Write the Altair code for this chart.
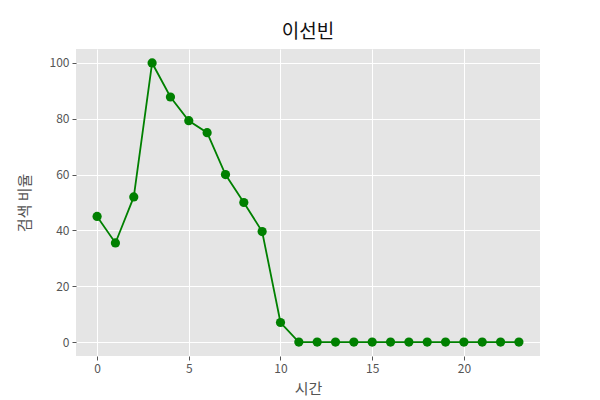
import altair as alt
import pandas as pd

hours = list(range(24))
ratio = [45, 35.5, 52, 100, 87.8, 79.3, 75, 60, 50, 39.6, 7, 0, 0, 0, 0, 0, 0, 0, 0, 0, 0, 0, 0, 0]

df = pd.DataFrame({"시간": hours, "검색 비율": ratio})

FONT = "Noto Sans CJK KR"

base = alt.Chart(df).encode(
    x=alt.X("시간:Q", scale=alt.Scale(domain=[-1.15, 24.15], nice=False, zero=False),
            axis=alt.Axis(values=[0, 5, 10, 15, 20], title="시간", format="d")),
    y=alt.Y("검색 비율:Q", scale=alt.Scale(domain=[-5, 105], nice=False),
            axis=alt.Axis(values=[0, 20, 40, 60, 80, 100], title="검색 비율")),
)

line = base.mark_line(color="#008000", strokeWidth=1.8)
pts = base.mark_circle(color="#008000", size=85, opacity=1)

chart = (line + pts).properties(
    width=464, height=307,
    title=alt.TitleParams("이선빈", font=FONT, fontSize=19, fontWeight="normal", color="#111", offset=7),
    autosize=alt.AutoSizeParams(type="none"),
    padding={"left": 68, "top": 41, "right": 52, "bottom": 43},
).configure_view(
    fill="#E5E5E5", stroke=None
).configure_axis(
    domain=False, gridColor="white", gridWidth=1, tickColor="#555", tickSize=4,
    labelColor="#555", labelFont=FONT, labelFontSize=12, titleFont=FONT,
    titleFontSize=15, titleFontWeight="normal", titleColor="#555", labelPadding=3
).configure_axisY(titlePadding=17).configure_axisX(titlePadding=7)

chart.save("out.html", embed_options={"renderer": "svg", "actions": False})
